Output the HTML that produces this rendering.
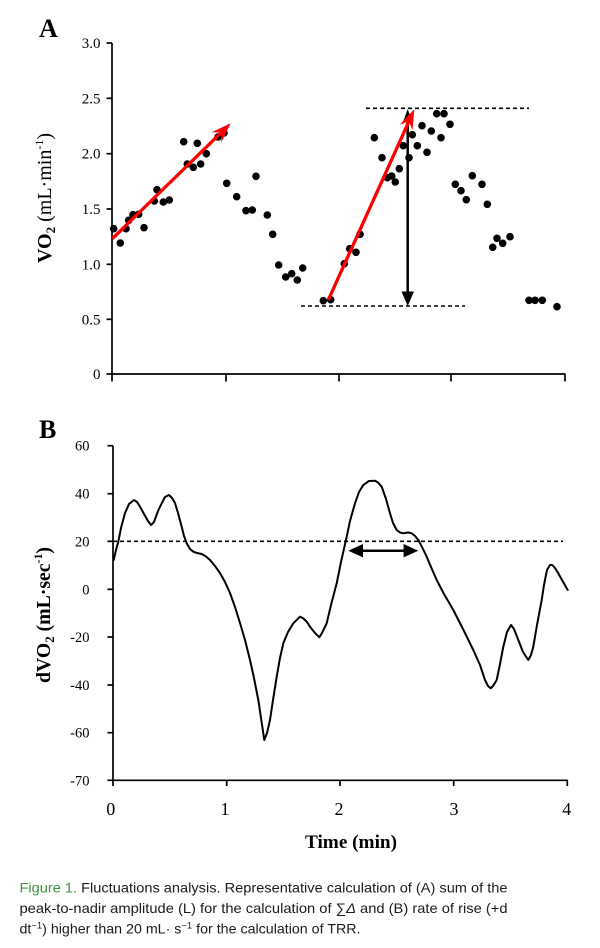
<!DOCTYPE html>
<html>
<head>
<meta charset="utf-8">
<style>
html,body{margin:0;padding:0;background:#fff;}
svg{display:block;}
</style>
</head>
<body>
<svg width="600" height="948" viewBox="0 0 600 948" xmlns="http://www.w3.org/2000/svg">
<rect width="600" height="948" fill="#fff"/>

<!-- ================= PANEL A ================= -->
<text x="39" y="37" font-family="Liberation Serif, serif" font-weight="bold" font-size="26" fill="#000">A</text>

<g stroke="#000" stroke-width="1.7" fill="none">
  <line x1="112" y1="43" x2="112" y2="374.8"/>
  <line x1="111.2" y1="374" x2="565.5" y2="374"/>
  <line x1="106.5" y1="43" x2="112" y2="43"/>
  <line x1="106.5" y1="98.3" x2="112" y2="98.3"/>
  <line x1="106.5" y1="153.7" x2="112" y2="153.7"/>
  <line x1="106.5" y1="209" x2="112" y2="209"/>
  <line x1="106.5" y1="264.3" x2="112" y2="264.3"/>
  <line x1="106.5" y1="319.3" x2="112" y2="319.3"/>
  <line x1="106.5" y1="374" x2="112" y2="374"/>
  <line x1="112" y1="374" x2="112" y2="381.5"/>
  <line x1="226" y1="374" x2="226" y2="381.5"/>
  <line x1="339" y1="374" x2="339" y2="381.5"/>
  <line x1="451" y1="374" x2="451" y2="381.5"/>
  <line x1="565" y1="374" x2="565" y2="381.5"/>
</g>

<g font-family="Liberation Serif, serif" font-size="15" fill="#000" text-anchor="end">
  <text x="100.5" y="48">3.0</text>
  <text x="100.5" y="103.3">2.5</text>
  <text x="100.5" y="158.7">2.0</text>
  <text x="100.5" y="214">1.5</text>
  <text x="100.5" y="269.3">1.0</text>
  <text x="100.5" y="324.3">0.5</text>
  <text x="100.5" y="379">0</text>
</g>

<text x="51" y="198" transform="rotate(-90 51 198)" text-anchor="middle" font-family="Liberation Serif, serif" font-size="20" fill="#000" textLength="130" lengthAdjust="spacingAndGlyphs"><tspan font-weight="bold">VO</tspan><tspan font-weight="bold" font-size="13" dy="4">2</tspan><tspan dy="-4"> (mL·min</tspan><tspan font-size="12" dy="-8">-1</tspan><tspan dy="8">)</tspan></text>

<g stroke="#000" stroke-width="1.6" stroke-dasharray="4 3" fill="none">
  <line x1="366" y1="108.3" x2="529" y2="108.3"/>
  <line x1="301" y1="306" x2="465" y2="306"/>
</g>

<g fill="#000">
<circle cx="113.7" cy="228.7" r="3.8"/>
<circle cx="120.3" cy="243" r="3.8"/>
<circle cx="126" cy="228.7" r="3.8"/>
<circle cx="128.7" cy="220.3" r="3.8"/>
<circle cx="133" cy="214.7" r="3.8"/>
<circle cx="138.7" cy="214.3" r="3.8"/>
<circle cx="144" cy="227.7" r="3.8"/>
<circle cx="154.3" cy="201" r="3.8"/>
<circle cx="157" cy="189.7" r="3.8"/>
<circle cx="163.3" cy="202" r="3.8"/>
<circle cx="169.3" cy="200" r="3.8"/>
<circle cx="183.7" cy="141.7" r="3.8"/>
<circle cx="187.3" cy="164" r="3.8"/>
<circle cx="193.3" cy="167.3" r="3.8"/>
<circle cx="197.3" cy="143.3" r="3.8"/>
<circle cx="200.7" cy="164" r="3.8"/>
<circle cx="206.3" cy="153.7" r="3.8"/>
<circle cx="218" cy="137" r="3.8"/>
<circle cx="224" cy="133" r="3.8"/>
<circle cx="226.7" cy="183.3" r="3.8"/>
<circle cx="236.7" cy="196.7" r="3.8"/>
<circle cx="246" cy="210.7" r="3.8"/>
<circle cx="252.3" cy="210" r="3.8"/>
<circle cx="256" cy="176.3" r="3.8"/>
<circle cx="267.3" cy="215" r="3.8"/>
<circle cx="272.7" cy="234.3" r="3.8"/>
<circle cx="278.7" cy="265" r="3.8"/>
<circle cx="285.7" cy="277" r="3.8"/>
<circle cx="291.7" cy="273.7" r="3.8"/>
<circle cx="297.3" cy="280" r="3.8"/>
<circle cx="302.7" cy="268" r="3.8"/>
<circle cx="323.3" cy="300.7" r="3.8"/>
<circle cx="330.7" cy="299.7" r="3.8"/>
<circle cx="344.3" cy="263.7" r="3.8"/>
<circle cx="349.7" cy="248.7" r="3.8"/>
<circle cx="356" cy="252.3" r="3.8"/>
<circle cx="360" cy="234.3" r="3.8"/>
<circle cx="374.3" cy="137.7" r="3.8"/>
<circle cx="382" cy="157.7" r="3.8"/>
<circle cx="387.3" cy="177.7" r="3.8"/>
<circle cx="391.7" cy="176" r="3.8"/>
<circle cx="395.3" cy="182" r="3.8"/>
<circle cx="399.3" cy="168.7" r="3.8"/>
<circle cx="403.3" cy="145.7" r="3.8"/>
<circle cx="409" cy="157.7" r="3.8"/>
<circle cx="412.3" cy="134.7" r="3.8"/>
<circle cx="417.3" cy="145.7" r="3.8"/>
<circle cx="422" cy="125.7" r="3.8"/>
<circle cx="427" cy="152.3" r="3.8"/>
<circle cx="431.3" cy="131" r="3.8"/>
<circle cx="436.7" cy="113.7" r="3.8"/>
<circle cx="441" cy="137.7" r="3.8"/>
<circle cx="444" cy="113.7" r="3.8"/>
<circle cx="450" cy="124.3" r="3.8"/>
<circle cx="455.3" cy="184.3" r="3.8"/>
<circle cx="461" cy="190.7" r="3.8"/>
<circle cx="466.3" cy="199.7" r="3.8"/>
<circle cx="472.3" cy="175.7" r="3.8"/>
<circle cx="482" cy="184.3" r="3.8"/>
<circle cx="487.3" cy="204.3" r="3.8"/>
<circle cx="492.7" cy="247.3" r="3.8"/>
<circle cx="497" cy="238.3" r="3.8"/>
<circle cx="502.7" cy="243.3" r="3.8"/>
<circle cx="510" cy="236.7" r="3.8"/>
<circle cx="529" cy="300.3" r="3.8"/>
<circle cx="535" cy="300.3" r="3.8"/>
<circle cx="542.3" cy="300.3" r="3.8"/>
<circle cx="557" cy="306.7" r="3.8"/>
</g>

<line x1="407.7" y1="120" x2="407.7" y2="293" stroke="#000" stroke-width="2.5"/>
<polygon points="407.7,109 402.8,122.5 412.6,122.5" fill="#000"/>
<polygon points="407.7,306 401.5,291.5 414,291.5" fill="#000"/>

<g stroke="#ff0000" stroke-width="3.3" fill="none" stroke-linecap="butt">
  <line x1="112.3" y1="238.7" x2="222.4" y2="131.4"/>
  <line x1="328.3" y1="300" x2="409.3" y2="120.5"/>
</g>
<polygon points="230.7,123.3 221.3,142.3 221.4,132.4 211.5,132.3" fill="#ff0000"/>
<polygon points="414.3,109.3 412.5,130.4 409,121.2 399.7,124.6" fill="#ff0000"/>

<!-- ================= PANEL B ================= -->
<text x="39" y="438" font-family="Liberation Serif, serif" font-weight="bold" font-size="26" fill="#000">B</text>

<g stroke="#000" stroke-width="1.7" fill="none">
  <line x1="113" y1="445.7" x2="113" y2="781"/>
  <line x1="112.2" y1="780.3" x2="567.8" y2="780.3"/>
  <line x1="107.5" y1="445.7" x2="113" y2="445.7"/>
  <line x1="107.5" y1="493.7" x2="113" y2="493.7"/>
  <line x1="107.5" y1="541.3" x2="113" y2="541.3"/>
  <line x1="107.5" y1="589.3" x2="113" y2="589.3"/>
  <line x1="107.5" y1="637" x2="113" y2="637"/>
  <line x1="107.5" y1="685" x2="113" y2="685"/>
  <line x1="107.5" y1="732.7" x2="113" y2="732.7"/>
  <line x1="107.5" y1="780.3" x2="113" y2="780.3"/>
  <line x1="113" y1="780.3" x2="113" y2="786"/>
  <line x1="226.7" y1="780.3" x2="226.7" y2="786"/>
  <line x1="340" y1="780.3" x2="340" y2="786"/>
  <line x1="453.7" y1="780.3" x2="453.7" y2="786"/>
  <line x1="567.3" y1="780.3" x2="567.3" y2="786"/>
</g>

<g font-family="Liberation Serif, serif" font-size="14.5" fill="#000" text-anchor="end">
  <text x="89.5" y="450.7">60</text>
  <text x="89.5" y="498.7">40</text>
  <text x="89.5" y="546.3">20</text>
  <text x="89.5" y="594.3">0</text>
  <text x="89.5" y="642">-20</text>
  <text x="89.5" y="690">-40</text>
  <text x="89.5" y="737.7">-60</text>
  <text x="89.5" y="785.3">-70</text>
</g>

<g font-family="Liberation Serif, serif" font-size="18" fill="#000" text-anchor="middle">
  <text x="110.8" y="815">0</text>
  <text x="225" y="815">1</text>
  <text x="339" y="815">2</text>
  <text x="454" y="815">3</text>
  <text x="566.7" y="815">4</text>
</g>
<text x="351" y="848" text-anchor="middle" font-family="Liberation Serif, serif" font-weight="bold" font-size="19" fill="#000" textLength="92" lengthAdjust="spacingAndGlyphs">Time (min)</text>

<text x="50" y="615" transform="rotate(-90 50 615)" text-anchor="middle" font-family="Liberation Serif, serif" font-weight="bold" font-size="20" fill="#000" textLength="136" lengthAdjust="spacingAndGlyphs">dVO<tspan font-size="13" dy="4">2</tspan><tspan dy="-4"> (mL·sec</tspan><tspan font-size="12" dy="-8">-1</tspan><tspan dy="8">)</tspan></text>

<line x1="113" y1="541.3" x2="563" y2="541.3" stroke="#000" stroke-width="1.6" stroke-dasharray="4 3"/>

<polyline fill="none" stroke="#000" stroke-width="2" stroke-linejoin="round" stroke-linecap="round" points="
113.7,560 116,550 118.3,541.7 121,528 125,513 129,504 134,500 137,502 140,506.7 144,514 148,521 151,525 154,522 158,511 161.7,503.3 165,497 169,495 172,498 175,503 178,513 181.7,526.7 184,536 186.7,543.3 190,549 193.3,551.7 197,553 201.7,554 206,556.5 210,560 215,566 220,573 225,582 230,593 235,607 240,623 245,640 250,660 254,678 258.3,700 261,718 264.3,740 267,733 270,720 273,700 276.7,676.7 280,658 283.3,643.3 288,632 293.3,623.3 300,616.7 303.3,618.3 307,622 310,626.7 315,633 319.3,637.3 322,633 326.7,623.3 331,605 336.7,583.3 341,562 346.7,536.7 350,521 355,503.3 359,492 363.3,485 369,481 375,480.7 378,482.5 381.7,486.7 386,499 390,513.3 393,523 396.7,530 400,532.5 403.3,533.3 408,532.5 411.7,533.3 415,536 418.3,540 422,547 426.7,556.7 431,567 436.7,580 444,594 453.3,610 463,629 473.3,650 480,665 485,680 488,686 490.7,688.3 493,686 496.7,680 500,664 503.3,646.7 507,632 511,625 514,629 518.3,640 523,652 528.3,660 531,655 533.3,646.7 537,625 541.7,600 544,585 547,570 550,565 552.3,565 555,568 558.3,573.3 562,580 567.7,590"/>

<line x1="360" y1="550.7" x2="406" y2="550.7" stroke="#000" stroke-width="2.5"/>
<polygon points="348.3,550.7 363,544 363,557.4" fill="#000"/>
<polygon points="418.3,550.7 403.6,544 403.6,557.4" fill="#000"/>

<!-- ================= CAPTION ================= -->
<g font-family="Liberation Sans, sans-serif" font-size="13.6" fill="#1a1a1a">
  <text x="19.5" y="892.3" textLength="488" lengthAdjust="spacingAndGlyphs"><tspan fill="#3d9140">Figure 1.</tspan> Fluctuations analysis. Representative calculation of (A) sum of the</text>
  <text x="19.5" y="913" textLength="488" lengthAdjust="spacingAndGlyphs">peak-to-nadir amplitude (L) for the calculation of  ∑<tspan font-style="italic">Δ</tspan> and (B) rate of rise (+d</text>
  <text x="19.5" y="933.5" textLength="341" lengthAdjust="spacingAndGlyphs">dt<tspan font-size="9" dy="-5">−1</tspan><tspan dy="5">) higher than 20 mL· s</tspan><tspan font-size="9" dy="-5">−1</tspan><tspan dy="5"> for the calculation of TRR.</tspan></text>
</g>
</svg>
</body>
</html>
